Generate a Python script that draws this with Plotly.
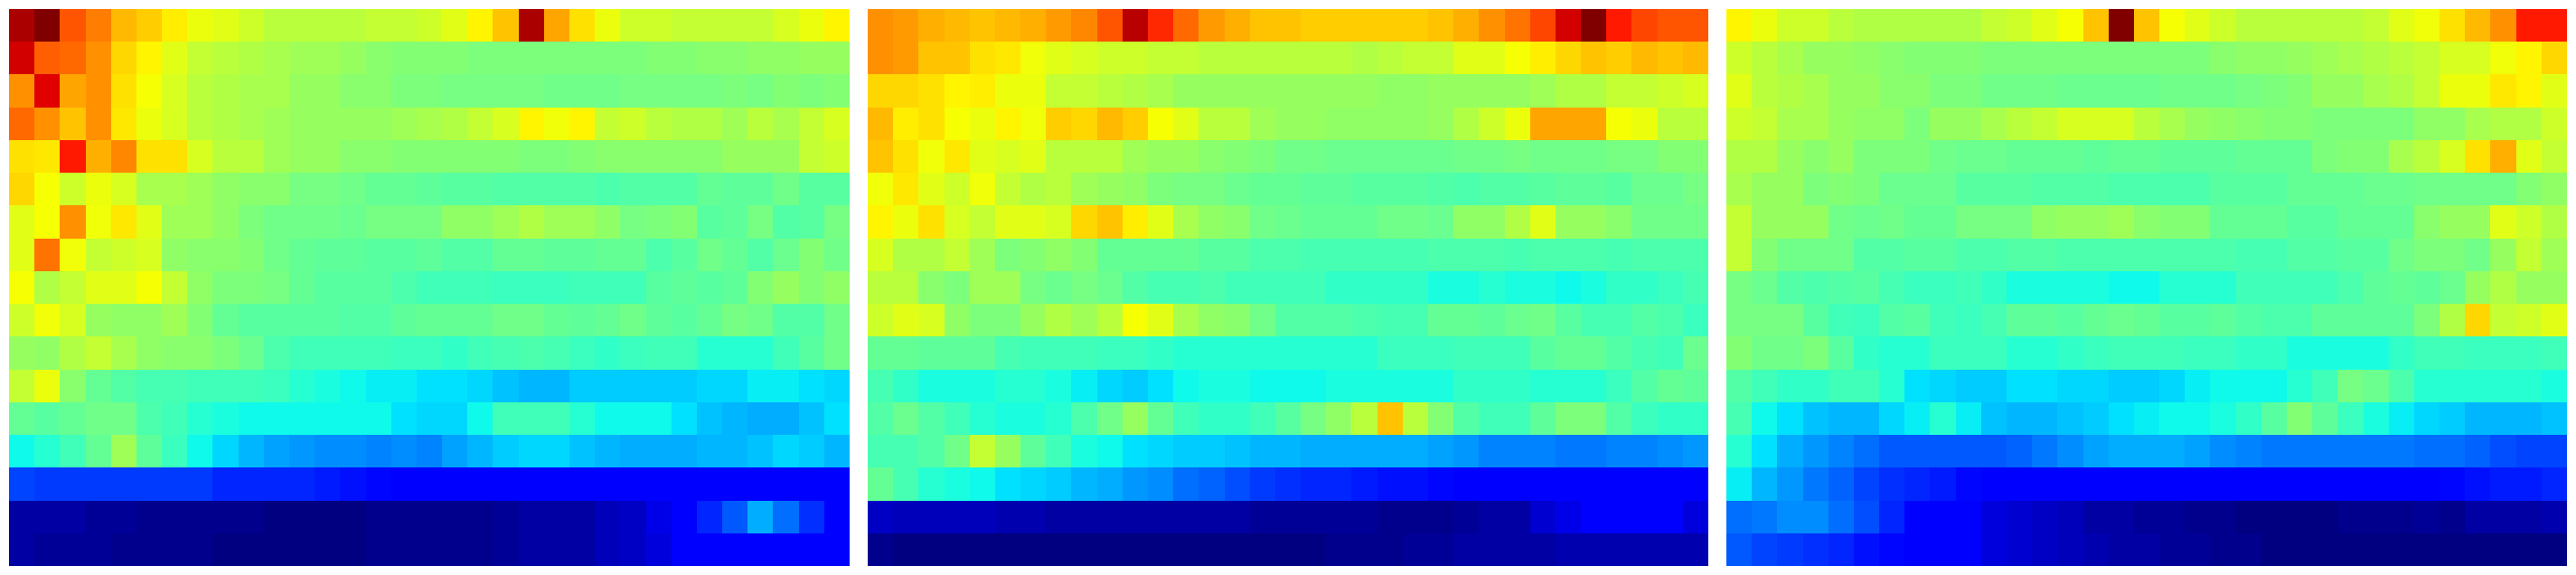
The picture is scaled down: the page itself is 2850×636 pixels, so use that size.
import plotly.graph_objects as go

panel_a = [
[96,100,84,80,74,72,68,64,63,61,59,59,59,59,60,60,61,63,67,73,96,76,70,64,61,61,60,60,60,60,62,64,67],
[93,83,82,78,71,67,63,60,59,58,57,56,56,55,53,52,52,52,51,51,51,51,51,51,51,52,52,53,53,54,54,55,55],
[78,92,76,78,70,66,62,59,58,57,57,55,55,53,53,51,51,50,50,50,50,49,49,49,50,50,50,50,51,50,52,51,52],
[82,78,73,78,69,64,62,59,58,57,56,55,55,55,55,56,57,58,60,62,67,65,67,60,61,59,58,58,56,59,57,60,62],
[70,69,88,75,79,70,70,62,59,59,56,55,55,53,53,52,52,52,52,52,51,51,52,53,53,53,53,53,55,55,55,60,61],
[71,66,61,64,62,57,57,56,54,53,53,50,50,49,47,47,46,45,45,44,44,44,44,43,44,44,44,47,46,46,49,45,45],
[63,66,78,65,69,63,56,56,54,51,49,49,49,48,50,50,50,54,54,56,58,56,56,54,50,51,52,45,46,50,44,45,50],
[63,81,65,60,61,62,54,53,53,52,49,47,46,46,45,45,46,44,44,47,47,46,46,47,47,43,45,49,47,44,48,52,49],
[66,58,60,63,63,66,60,54,51,51,50,47,45,45,45,43,41,41,41,40,40,40,41,41,41,45,46,45,46,52,55,52,54],
[61,65,62,55,54,54,56,52,47,45,45,45,45,44,44,46,47,47,47,49,49,47,46,47,49,46,45,47,50,49,44,44,49],
[55,54,58,60,57,54,53,53,51,48,43,41,41,41,41,40,40,39,41,42,43,42,40,39,40,41,41,38,38,38,41,45,49],
[60,64,53,47,44,42,42,41,41,41,40,38,37,36,35,35,34,34,33,31,30,30,32,32,32,32,32,33,33,35,35,34,33],
[47,45,47,49,49,43,41,38,37,36,36,36,36,36,36,34,33,33,36,41,41,41,38,36,36,36,34,31,30,29,29,31,34],
[36,38,41,47,56,46,40,36,33,30,28,27,26,26,25,26,25,28,30,32,33,33,31,30,29,29,29,30,30,31,33,32,30],
[19,18,18,18,18,18,18,18,16,16,16,16,15,14,13,12,12,11,11,11,11,11,11,11,11,12,12,12,12,12,12,12,12],
[3,3,3,2,2,1,1,1,1,1,0,0,0,0,1,1,1,1,1,2,3,3,3,5,6,9,11,16,21,29,23,17,11],
[3,2,2,2,1,1,1,1,0,0,0,0,0,0,1,1,1,1,1,2,3,3,3,5,6,8,11,11,11,11,11,12,12],
]

panel_b = [
[78,77,75,74,73,74,75,77,79,84,95,87,82,77,75,73,73,72,72,72,72,72,73,75,78,81,85,93,100,88,85,84,84],
[78,77,73,73,70,69,65,63,62,61,61,60,60,59,59,59,59,59,59,58,59,60,60,63,63,66,68,71,73,72,74,73,74],
[71,71,70,67,68,64,64,60,60,59,58,57,55,55,55,55,55,55,55,55,54,54,55,55,55,55,56,58,58,60,60,61,62],
[74,68,70,66,64,67,65,72,71,74,72,66,63,59,59,56,55,55,54,54,54,54,55,58,61,64,76,76,76,66,64,59,59],
[73,70,65,69,63,62,63,59,59,59,56,55,55,53,52,51,49,49,48,48,48,48,48,49,49,50,49,49,49,50,50,52,52],
[65,69,63,61,65,60,58,59,56,55,54,51,50,50,48,47,47,46,46,45,45,45,44,43,44,44,45,46,46,45,48,48,50],
[67,64,70,62,60,63,63,62,71,73,68,63,57,54,53,49,48,47,47,47,49,49,48,54,54,58,63,55,55,53,49,49,49],
[62,58,58,60,56,51,52,54,52,47,47,47,47,45,45,43,43,42,42,42,42,42,43,43,43,42,43,43,43,42,43,43,43],
[59,59,53,51,56,56,50,48,50,48,44,42,42,43,41,41,41,41,39,39,39,39,37,37,38,37,37,36,37,39,39,40,42],
[61,63,62,54,51,51,55,58,56,59,66,63,57,54,53,49,44,44,44,43,42,42,47,47,46,48,49,45,42,42,44,43,40],
[47,47,46,46,46,42,41,41,41,40,40,39,38,38,38,38,38,38,38,38,40,40,40,41,41,41,45,47,47,44,42,41,48],
[42,39,37,37,37,38,38,37,35,33,32,34,36,37,37,36,36,36,37,37,37,37,37,39,39,39,38,38,38,40,44,47,46],
[44,48,44,41,38,37,37,38,43,49,55,47,41,39,39,41,45,50,54,59,73,59,52,44,41,41,46,51,51,44,40,39,39],
[42,42,44,49,60,55,46,41,37,36,34,33,32,32,31,30,30,29,29,29,29,29,28,27,25,25,25,24,24,25,25,26,27],
[47,42,38,37,36,34,33,32,30,29,27,26,23,22,20,18,17,16,16,15,14,14,13,12,12,12,12,12,12,12,12,12,12],
[6,5,5,5,5,4,4,3,3,3,3,3,3,3,3,2,2,2,2,2,1,1,1,2,3,3,7,9,11,11,12,11,8],
[1,0,0,0,0,0,0,0,0,0,0,0,0,0,0,0,0,0,1,1,1,2,2,3,3,3,3,4,4,4,4,4,4],
]

panel_c = [
[67,64,61,61,59,58,58,58,58,58,60,61,63,66,73,100,73,66,63,61,59,59,59,59,59,60,63,65,70,74,78,88,88],
[61,59,57,55,55,54,53,52,52,52,51,51,51,51,51,51,51,51,51,53,54,54,55,56,57,58,59,60,62,62,65,67,71],
[63,59,58,57,55,55,53,53,51,51,49,49,49,48,48,48,48,49,49,49,50,51,52,55,55,57,58,60,64,64,69,67,63],
[61,60,57,57,55,54,54,51,55,55,57,59,60,62,62,62,59,57,55,54,53,52,52,51,51,51,51,54,54,57,58,58,61],
[58,58,55,53,55,51,51,51,49,48,48,47,47,47,46,47,47,46,46,46,47,47,47,51,52,52,57,59,62,70,75,63,60],
[57,55,55,51,52,51,48,48,48,45,45,45,44,44,44,43,43,43,43,45,45,45,47,47,47,48,48,49,49,49,49,52,54],
[60,55,55,55,49,48,49,47,47,50,50,50,54,55,55,56,53,52,52,47,47,47,45,45,47,47,47,53,55,55,63,61,58],
[60,52,49,49,49,44,44,45,45,43,43,44,44,43,43,43,43,43,43,43,42,42,44,44,45,45,49,51,51,49,55,60,56],
[50,48,44,43,44,45,42,40,40,41,39,37,37,37,37,36,36,38,38,38,41,41,41,41,43,46,47,46,48,55,58,55,55],
[50,50,50,45,41,40,44,45,41,40,42,46,46,45,47,48,47,45,45,46,44,43,43,46,46,46,46,51,58,71,60,61,63],
[52,49,49,51,45,39,38,38,40,40,40,38,38,39,40,41,41,41,40,40,39,39,37,37,37,37,39,41,41,40,40,40,41],
[44,41,39,39,41,41,38,34,33,32,32,34,34,33,33,32,32,33,35,36,36,36,38,41,50,48,43,38,38,38,38,38,37],
[42,36,34,31,30,30,33,35,38,35,31,30,30,31,32,34,35,36,36,37,39,45,52,46,40,37,35,33,32,30,30,30,31],
[38,34,29,27,25,23,21,21,21,21,21,22,24,26,28,29,29,29,28,26,25,24,24,24,24,24,24,23,23,22,20,19,19],
[35,30,27,24,22,19,17,16,15,13,12,12,12,12,12,12,12,12,12,12,12,12,12,12,12,12,12,12,13,14,15,15,16],
[23,24,26,26,23,20,16,11,12,11,8,7,6,5,3,3,2,2,1,1,0,0,0,0,1,1,1,2,1,3,3,3,4],
[21,19,18,17,16,14,13,11,12,11,8,7,6,5,4,3,3,2,2,1,1,0,0,0,0,0,0,0,0,0,0,0,0],
]

panels = [panel_a, panel_b, panel_c]
for p in panels:
    assert len(p) == 17 and all(len(r) == 33 for r in p), [len(r) for r in p]

W, H = 2850, 636
stops = [
    (0, "rgb(0,0,128)"), (11, "rgb(0,0,255)"), (12.5, "rgb(0,0,255)"), (34, "rgb(0,225,255)"),
    (36, "rgb(15,250,235)"), (38, "rgb(38,255,210)"), (40, "rgb(58,255,190)"), (45, "rgb(88,255,160)"),
    (50, "rgb(118,255,130)"), (55, "rgb(150,255,95)"), (60, "rgb(195,255,50)"), (64, "rgb(235,255,13)"),
    (66, "rgb(247,255,3)"), (67, "rgb(255,245,0)"), (70, "rgb(255,225,0)"), (73, "rgb(255,195,0)"),
    (75, "rgb(255,175,0)"), (78, "rgb(255,145,0)"), (80, "rgb(255,125,0)"), (84, "rgb(255,85,0)"),
    (88, "rgb(255,25,0)"), (92, "rgb(225,0,0)"), (96, "rgb(170,0,0)"), (100, "rgb(128,0,0)"),
]
jet = [[v / 100, c] for v, c in stops]

fig = go.Figure()
lefts = [10, 960, 1910]
for i, (p, left) in enumerate(zip(panels, lefts)):
    suffix = "" if i == 0 else str(i + 1)
    fig.add_trace(go.Heatmap(z=p, zmin=0, zmax=100, colorscale=jet, showscale=False,
                             xaxis="x" + suffix, yaxis="y" + suffix, hoverinfo="skip"))
    fig.update_layout({
        "xaxis" + suffix: dict(domain=[left / W, (left + 930) / W], visible=False,
                               range=[-0.5, 32.5], anchor="y" + suffix),
        "yaxis" + suffix: dict(domain=[1 - 626 / H, 1 - 10 / H], visible=False,
                               range=[16.5, -0.5], anchor="x" + suffix),
    })

fig.update_layout(width=W, height=H, margin=dict(l=0, r=0, t=0, b=0),
                  paper_bgcolor="white", plot_bgcolor="white", showlegend=False)
fig.write_html("out.html", config={"displayModeBar": False},
               post_script="document.body.style.margin='0';")
